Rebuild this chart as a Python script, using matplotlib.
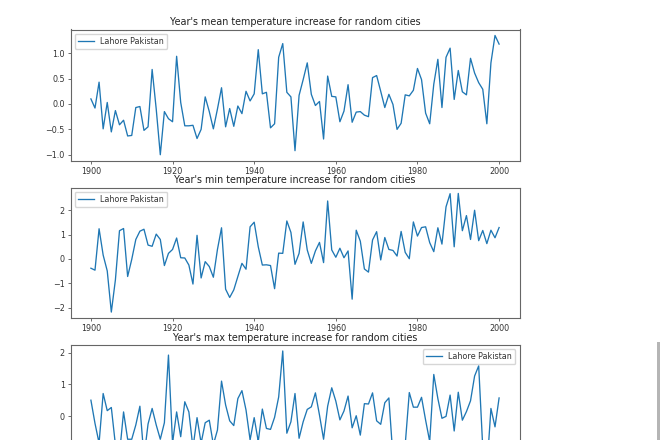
#!/usr/bin/env python3
import matplotlib
matplotlib.use("Agg")
import matplotlib.pyplot as plt
from matplotlib.patches import Rectangle

years = list(range(1900, 2001))
city = "Lahore Pakistan"

mean_temp = [
    0.10, -0.08, 0.43, -0.49, 0.03, -0.55, -0.13, -0.41, -0.32, -0.63,
    -0.62, -0.07, -0.05, -0.52, -0.45, 0.68, -0.10, -1.00, -0.15, -0.29,
    -0.35, 0.94, 0.03, -0.43, -0.43, -0.42, -0.68, -0.50, 0.14, -0.15,
    -0.49, -0.10, 0.32, -0.45, -0.09, -0.44, -0.04, -0.19, 0.25, 0.06,
    0.20, 1.07, 0.20, 0.23, -0.47, -0.39, 0.92, 1.19, 0.23, 0.14,
    -0.92, 0.17, 0.48, 0.81, 0.19, -0.03, 0.05, -0.69, 0.55, 0.15,
    0.14, -0.35, -0.14, 0.38, -0.36, -0.16, -0.15, -0.22, -0.25, 0.52,
    0.56, 0.25, -0.07, 0.19, -0.01, -0.50, -0.38, 0.18, 0.16, 0.27,
    0.70, 0.48, -0.18, -0.39, 0.39, 0.88, -0.07, 0.92, 1.10, 0.09,
    0.66, 0.24, 0.18, 0.90, 0.61, 0.42, 0.29, -0.39, 0.81, 1.35,
    1.18,
]

min_temp = [
    -0.38, -0.46, 1.24, 0.16, -0.49, -2.18, -0.86, 1.16, 1.25, -0.72,
    -0.02, 0.80, 1.14, 1.22, 0.57, 0.52, 1.02, 0.80, -0.27, 0.23,
    0.39, 0.86, 0.05, 0.04, -0.25, -1.03, 0.97, -0.78, -0.11, -0.31,
    -0.75, 0.39, 1.28, -1.24, -1.58, -1.27, -0.72, -0.18, -0.42, 1.32,
    1.51, 0.50, -0.25, -0.24, -0.27, -1.22, 0.24, 0.23, 1.56, 1.09,
    -0.22, 0.23, 1.52, 0.37, -0.18, 0.33, 0.68, -0.15, 2.38, 0.37,
    0.07, 0.44, 0.05, 0.33, -1.65, 1.18, 0.73, -0.41, -0.54, 0.78,
    1.12, -0.04, 0.88, 0.39, 0.35, 0.12, 1.13, 0.27, 0.01, 1.52,
    0.94, 1.29, 1.32, 0.67, 0.30, 1.28, 0.61, 2.14, 2.68, 0.50,
    2.69, 1.16, 1.78, 0.80, 2.00, 0.75, 1.17, 0.63, 1.18, 0.87,
    1.29,
]

# values under y=-0.75 fall below the crop, they are rough guesses
max_temp = [
    0.50, -0.23, -0.85, 0.71, 0.17, 0.27, -0.90, -1.20, 0.13, -0.73,
    -0.73, -0.28, 0.31, -1.30, -0.25, 0.24, -0.28, -0.73, -0.21, 1.92,
    -0.85, 0.13, -0.65, 0.45, 0.13, -1.00, -0.05, -0.85, -0.21, -0.13,
    -0.90, -0.44, 1.10, 0.35, -0.15, -0.30, 0.55, 0.80, 0.19, -0.75,
    -0.05, -0.80, 0.22, -0.39, -0.42, -0.04, 0.60, 2.05, -0.54, -0.18,
    0.71, -0.70, -0.18, 0.21, 0.29, 0.73, 0.03, -0.73, 0.31, 0.89,
    0.47, -0.12, 0.16, 0.63, -0.37, 0.01, -0.60, 0.39, 0.38, 0.73,
    -0.15, -0.26, 0.42, 0.57, -1.30, -1.50, -1.10, -0.90, 0.74, 0.28,
    0.28, 0.59, -0.13, -0.80, 1.31, 0.55, -0.07, -0.01, 0.66, -0.47,
    0.75, -0.13, 0.14, 0.48, 1.26, 1.58, -1.00, -1.70, 0.24, -0.34,
    0.57,
]
max_yticks = [0, 1, 2]

W, H = 660, 440
FS = 5.8


def panel(top, bottom, values, title, legend_loc):
    # top/bottom in image pixels, the last panel runs off the canvas
    ax = fig.add_axes([70.5 / W, 1 - bottom / H, 449 / W, (bottom - top) / H])
    ax.plot(years, values, color="#1f77b4", linewidth=0.95, label=city)
    ax.set_title(title, fontsize=6.9, pad=3.2, color="#222222")
    ax.tick_params(labelsize=FS, width=0.5, length=2.2, pad=2, colors="#333333")
    for s in ax.spines.values():
        s.set_linewidth(0.8)
        s.set_color("#666666")
    ax.legend(loc=legend_loc, fontsize=FS, labelcolor="#333333")
    return ax


fig = plt.figure(figsize=(W / 100, H / 100), dpi=100)
panel(29.5, 160.7, mean_temp, "Year's mean temperature increase for random cities", "upper left")
panel(187.5, 318, min_temp, "Year's min temperature increase for random cities", "upper left")
ax3 = panel(345, 476, max_temp, "Year's max temperature increase for random cities", "upper right")
# its lower labels would sit below the canvas anyway
ax3.set_yticks(max_yticks)
ax3.tick_params(axis="x", labelbottom=False)

# page scrollbar at the right edge of the screenshot
fig.add_artist(Rectangle((657 / W, 0), 3 / W, (H - 342) / H, transform=fig.transFigure,
                         color="#b5b5b5", linewidth=0))

fig.savefig("out.png", dpi=100)
